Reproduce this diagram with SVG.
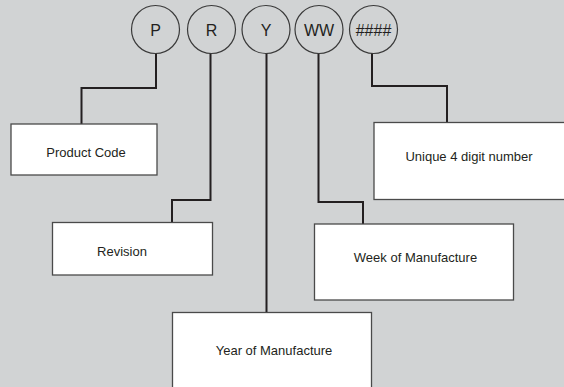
<svg xmlns="http://www.w3.org/2000/svg" width="564" height="387" viewBox="0 0 564 387">
<style>
.circ{fill:none;stroke:#3a3a3a;stroke-width:1.2}
.box{fill:#ffffff;stroke:#4a4a4a;stroke-width:1.3}
.lbl{font-family:"Liberation Sans",Arial,sans-serif;font-size:13px;fill:#231f20;text-anchor:middle}
.code{font-family:"Liberation Sans",Arial,sans-serif;font-size:16px;fill:#231f20;text-anchor:middle}
.conn{fill:none;stroke:#231f20;stroke-width:2;stroke-linecap:square;stroke-linejoin:miter}
</style>
<rect x="0" y="0" width="564" height="387" fill="#d1d3d4"/>
<g id="connectors">
<polyline class="conn" points="156,54 156,88 81.5,88 81.5,124"/>
<polyline class="conn" points="210.5,54 210.5,200 172,200 172,222"/>
<polyline class="conn" points="266.5,54 266.5,312"/>
<polyline class="conn" points="318.5,54 318.5,202 363,202 363,224"/>
<polyline class="conn" points="372,54 372,86 447,86 447,122"/>
</g>
<g id="circle-P"><circle class="circ" cx="155.5" cy="29.5" r="24"/><text class="code" x="155.5" y="35.5">P</text></g>
<g id="circle-R"><circle class="circ" cx="211.5" cy="29.5" r="24"/><text class="code" x="211.5" y="35.5">R</text></g>
<g id="circle-Y"><circle class="circ" cx="266" cy="29.5" r="24"/><text class="code" x="266" y="35.5">Y</text></g>
<g id="circle-WW"><circle class="circ" cx="319" cy="29.5" r="24"/><text class="code" x="319" y="35.5">WW</text></g>
<g id="circle-hash"><circle class="circ" cx="373.5" cy="29.5" r="24"/><text class="code" x="373.5" y="35.5">####</text></g>
<g id="node-product"><rect class="box" x="11" y="124" width="146" height="51"/><text class="lbl" x="86" y="156.5">Product Code</text></g>
<g id="node-revision"><rect class="box" x="52.5" y="222.5" width="160" height="52.5"/><text class="lbl" x="122" y="256">Revision</text></g>
<g id="node-year"><rect class="box" x="172.5" y="312.5" width="199" height="80"/><text class="lbl" x="274" y="355">Year of Manufacture</text></g>
<g id="node-week"><rect class="box" x="314.5" y="224" width="199" height="76"/><text class="lbl" x="415.5" y="261.5">Week of Manufacture</text></g>
<g id="node-unique"><rect class="box" x="374" y="122.5" width="200" height="77"/><text class="lbl" x="469" y="160.5">Unique 4 digit number</text></g>
</svg>
